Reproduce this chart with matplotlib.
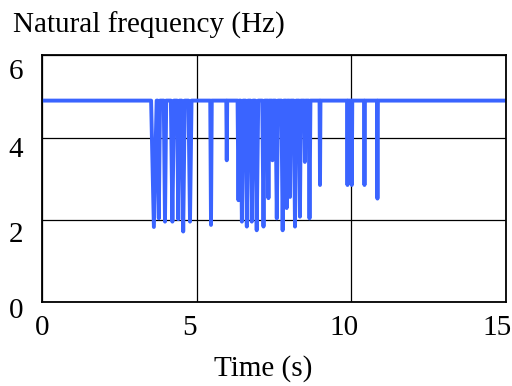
import matplotlib
matplotlib.use("Agg")
import matplotlib.pyplot as plt
from matplotlib.transforms import ScaledTranslation

# natural frequency trace: flat baseline with short drops
BASE_F = 4.9
T_END = 15.0

spike_t = [3.61, 3.77, 3.97, 4.21, 4.40, 4.56, 4.78, 5.46, 5.97,
           6.35, 6.46, 6.62, 6.78, 6.94, 7.16, 7.32, 7.45, 7.59,
           7.78, 7.91, 8.02, 8.18, 8.34, 8.50, 8.65, 8.99,
           9.88, 10.02, 10.43, 10.85]
spike_f = [1.83, 2.04, 1.96, 1.96, 2.02, 1.72, 1.96, 1.88, 3.45,
           2.48, 1.96, 1.84, 1.96, 1.75, 1.84, 2.53, 3.45, 2.04,
           1.75, 2.29, 2.56, 1.84, 2.08, 3.41, 2.04, 2.85,
           2.85, 2.85, 2.85, 2.52]
spike_w = [0.18, 0.08, 0.08, 0.10, 0.08, 0.10, 0.10, 0.05, 0.03,
           0.06, 0.08, 0.08, 0.08, 0.10, 0.08, 0.05, 0.05, 0.08,
           0.08, 0.05, 0.05, 0.08, 0.06, 0.05, 0.06, 0.03,
           0.03, 0.03, 0.03, 0.03]

xticks = [0, 5, 10, 15]
yticks = [0, 2, 4, 6]

t, f = [0.0], [BASE_F]
for st, sf, sw in zip(spike_t, spike_f, spike_w):
    t += [st - sw / 2, st, st + sw / 2]
    f += [BASE_F, sf, BASE_F]
t.append(T_END)
f.append(BASE_F)

plt.rcParams["font.family"] = ["Liberation Serif", "DejaVu Serif"]

fig = plt.figure(figsize=(5.12, 3.86), dpi=100)
ax = fig.add_axes([0.0828, 0.2168, 0.9047, 0.6399])

ax.plot(t, f, color="#3a64ff", linewidth=2.8,
        solid_joinstyle="round", solid_capstyle="round")

ax.set_xlim(0, 15)
ax.set_ylim(0, 6)
ax.set_xticks(xticks)
ax.set_yticks(yticks)
ax.grid(True, color="black", linewidth=0.9)
ax.set_axisbelow(True)
ax.tick_params(length=0, labelsize=21, pad=9)
ax.tick_params(axis="y", pad=14)
for s in ax.spines.values():
    s.set_linewidth(1.3)

# nudge tick labels like the source figure (pixels)
x_shift = [0, -7, -7, -9]
y_shift = [-6, -12, -9, -14]
for lbl, dx in zip(ax.get_xticklabels(), x_shift):
    lbl.set_transform(lbl.get_transform() + ScaledTranslation(dx / 100, 0, fig.dpi_scale_trans))
for lbl, dy in zip(ax.get_yticklabels(), y_shift):
    lbl.set_transform(lbl.get_transform() + ScaledTranslation(0, dy / 100, fig.dpi_scale_trans))

ax.set_xlabel("Time (s)", fontsize=21)
ax.xaxis.set_label_coords(0.476, -0.215)
fig.text(0.025, 0.935, "Natural frequency (Hz)", fontsize=21, va="center", ha="left")

fig.savefig("out.png", dpi=100)
